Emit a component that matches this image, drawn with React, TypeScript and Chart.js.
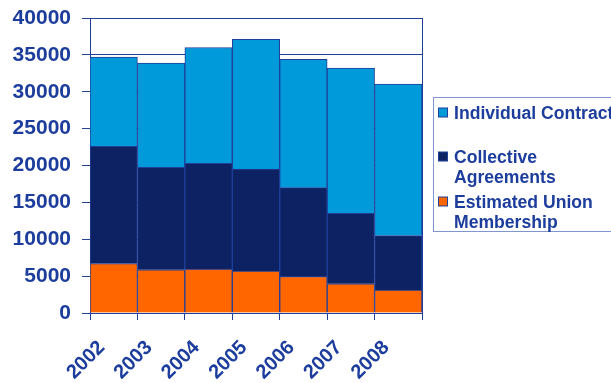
import React, { useEffect, useRef } from 'react';
import { Chart, registerables } from 'chart.js';

Chart.register(...registerables);

const years = ['2002', '2003', '2004', '2005', '2006', '2007', '2008'];
const unionMembership = [6700, 5850, 5950, 5700, 4950, 3950, 3100];
const collectiveAgreements = [15900, 13900, 14350, 13800, 12050, 9550, 7400];
const individualContracts = [12100, 14150, 15700, 17600, 17400, 19700, 20550];
const seriesNames = ['Estimated Union Membership', 'Collective Agreements', 'Individual Contract'];
const legendLines = [['Individual Contract'], ['Collective', 'Agreements'], ['Estimated Union', 'Membership']];
const yMin = 0;
const yMax = 40000;
const yStep = 5000;

const FONT = "'Liberation Sans', Arial, Helvetica, sans-serif";
const TEXT = '#1c3d9c';
const LINE = '#1f3f99';
const ORANGE = '#ff6600';
const NAVY = '#0c2263';
const LIGHT = '#0099da';

const legendPlugin = {
  id: 'boxLegend',
  afterDraw(chart: any) {
    const ctx = chart.ctx;
    ctx.save();
    ctx.strokeStyle = '#7f96cf';
    ctx.lineWidth = 1;
    ctx.strokeRect(433.5, 97.5, 220, 134);
    const colors = [LIGHT, NAVY, ORANGE];
    const firstY = [113, 157, 202];
    ctx.font = `bold 17.6px ${FONT}`;
    ctx.textBaseline = 'middle';
    ctx.textAlign = 'left';
    legendLines.forEach((lines, i) => {
      const cy = firstY[i];
      ctx.fillStyle = colors[i];
      ctx.fillRect(438.5, cy - 5, 9, 9);
      ctx.strokeStyle = LINE;
      ctx.strokeRect(438.5, cy - 5, 9, 9);
      ctx.fillStyle = TEXT;
      lines.forEach((t, j) => {
        ctx.fillText(t, 454, cy + 1 + j * 20);
      });
    });
    ctx.restore();
  },
};

export default function App() {
  const ref = useRef<HTMLCanvasElement>(null);
  useEffect(() => {
    if (!ref.current) return;
    const common = { borderColor: LINE, borderWidth: 1, barPercentage: 1, categoryPercentage: 1 };
    const chart = new Chart(ref.current, {
      type: 'bar',
      data: {
        labels: years,
        datasets: [
          { label: seriesNames[0], data: unionMembership, backgroundColor: ORANGE, ...common },
          { label: seriesNames[1], data: collectiveAgreements, backgroundColor: NAVY, ...common },
          { label: seriesNames[2], data: individualContracts, backgroundColor: LIGHT, ...common },
        ],
      },
      options: {
        animation: false,
        responsive: false,
        devicePixelRatio: 1,
        layout: { padding: { top: 18, right: 189, left: 0, bottom: 0 } },
        plugins: { legend: { display: false }, tooltip: { enabled: false } },
        scales: {
          x: {
            stacked: true,
            grid: {
              display: true,
              offset: true,
              color: (c: any) => (c.type !== 'tick' || c.index === 0 ? LINE : 'rgba(0,0,0,0)'),
              tickColor: LINE,
              lineWidth: 1,
              tickLength: 7,
              drawOnChartArea: true,
            },
            border: { display: true, color: LINE },
            ticks: {
              color: TEXT,
              font: { family: FONT, size: 20, weight: 'bold' },
              minRotation: 45,
              maxRotation: 45,
              padding: 16,
              labelOffset: -12,
            },
            afterFit: (s: any) => { s.height = 70; s.paddingLeft = 0; s.paddingRight = 0; },
          },
          y: {
            stacked: true,
            min: yMin,
            max: yMax,
            grid: { color: LINE, lineWidth: 1, tickLength: 8 },
            border: { display: true, color: LINE },
            ticks: {
              stepSize: yStep,
              color: TEXT,
              padding: 11,
              font: { family: FONT, size: 21, weight: 'bold' },
              callback: (v: any) => String(v),
            },
            afterFit: (s: any) => { s.width = 90; s.paddingTop = 0; s.paddingBottom = 0; },
          },
        },
      },
      plugins: [legendPlugin],
    });
    return () => chart.destroy();
  }, []);
  return (
    <div style={{ position: 'absolute', left: 0, top: 0, width: 611, height: 383, overflow: 'hidden', background: '#fff' }}>
      <canvas ref={ref} width={611} height={383} style={{ width: 611, height: 383, display: 'block' }} />
    </div>
  );
}
